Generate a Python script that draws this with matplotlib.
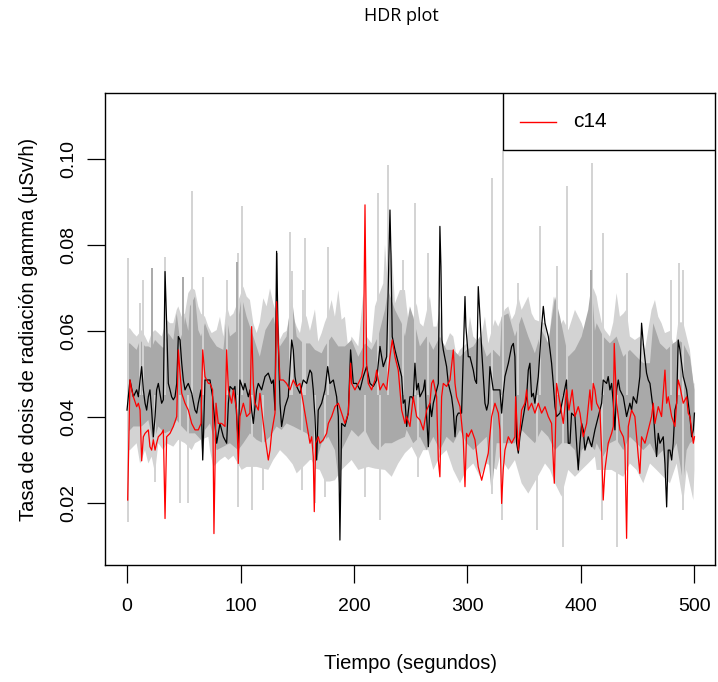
"""HDR plot: gamma dose rate, HDR bands with median and c14 series"""
import matplotlib
matplotlib.use('Agg')
import matplotlib.pyplot as plt
import matplotlib.patches as patches
import numpy as np

plt.rcParams['font.family'] = ['Liberation Sans', 'DejaVu Sans']

# ---- data ----
# median (black)
black_t = [0, 2.6, 5.6, 8.5, 10, 11.5, 12.9, 14.4, 15.9, 17.3, 18.8, 20.2, 21.7, 23.2, 24.7, 26.1, 27.6,
           29, 30.5, 32, 33.5, 34.9, 36.4, 37.9, 39.3, 40.8, 42.3, 43.8, 45.2, 46.7, 48.2, 49.6, 51.1,
           52.5, 54, 57, 59.9, 61.4, 62.8, 65.2, 66.7, 68.7, 71.7, 73.1, 75.4, 77.5, 79, 81.9, 84.9,
           87.8, 89.3, 90.7, 93.7, 95.1, 98, 99.5, 102.5, 103.9, 106.9, 108.3, 109.8, 111.3, 114.2,
           115.7, 118.6, 121.6, 124.5, 127.4, 128.9, 130.4, 131.8, 133.3, 134.8, 136.2, 139.2, 142.1,
           145.1, 146.5, 148, 149.5, 152.4, 155.3, 158.3, 161.2, 162.7, 164.1, 165.6, 167.1, 168.5,
           171.5, 174.4, 176.8, 178.8, 181.8, 184.7, 186.2, 187.6, 189.1, 192, 195, 197, 199.4, 202.3,
           205.3, 208.2, 211.1, 214.1, 217, 220, 222.9, 225.8, 228.8, 231.7, 232.6, 233.7, 236.1, 239,
           242, 243.4, 244.9, 246.4, 249.3, 250.8, 252.2, 253.7, 255.2, 256.7, 258.1, 261.1, 262.5,
           264, 265.5, 266.9, 268.4, 269.9, 272.8, 274.3, 275.7, 276.6, 277.5, 278.7, 281.6, 283.1,
           286, 287.5, 289, 290.4, 291.9, 294.8, 297.8, 298.6, 300.7, 302.2, 305.1, 306.6, 308, 309.5,
           311, 312.5, 315.4, 316.9, 318.3, 319.8, 322.7, 325.7, 328.6, 330.1, 331.5, 333, 336, 338.9,
           340.4, 341.8, 343.3, 344.8, 346.2, 349.2, 352.1, 353.6, 355, 356.5, 358, 359.4, 362.4,
           365.3, 366.8, 368.3, 371.2, 372.7, 374.1, 375.6, 377.1, 378.5, 381.5, 384.4, 387.3, 388.8,
           390.3, 391.7, 394.7, 397.6, 399.1, 400.6, 402, 403.5, 406.4, 409.4, 412.3, 415.2, 418.2,
           419.6, 422.6, 424, 425.5, 427, 428.5, 429.9, 431.4, 432.9, 434.3, 437.3, 440.2, 443.1,
           444.6, 446.1, 449, 450.5, 451.9, 453.4, 454.9, 457.8, 459.3, 460.8, 463.7, 465.2, 466.6,
           468.1, 469.6, 472.5, 474, 475.5, 476.9, 478.4, 479.9, 481.3, 482.8, 484.3, 485.7, 487.2,
           490.1, 493.1, 496, 497.5, 499, 500]
black_v = [0.0416, 0.0486, 0.0447, 0.0463, 0.0447, 0.0486, 0.0517, 0.0463, 0.0432, 0.0416, 0.0447,
           0.0463, 0.0416, 0.0354, 0.0401, 0.0463, 0.0478, 0.0455, 0.0432, 0.0440, 0.0738, 0.0618,
           0.0478, 0.0463, 0.0447, 0.0440, 0.0447, 0.0478, 0.0587, 0.0579, 0.0525, 0.0486, 0.0463,
           0.0471, 0.0478, 0.0455, 0.0416, 0.0409, 0.0432, 0.0463, 0.0300, 0.0486, 0.0486, 0.0486,
           0.0447, 0.0385, 0.0339, 0.0385, 0.0354, 0.0339, 0.0432, 0.0471, 0.0463, 0.0471, 0.0339,
           0.0486, 0.0463, 0.0478, 0.0447, 0.0463, 0.0416, 0.0385, 0.0463, 0.0478, 0.0463, 0.0494,
           0.0502, 0.0478, 0.0486, 0.0416, 0.0785, 0.0571, 0.0432, 0.0378, 0.0424, 0.0447, 0.0579,
           0.0556, 0.0494, 0.0471, 0.0455, 0.0486, 0.0478, 0.0509, 0.0502, 0.0463, 0.0401, 0.0300,
           0.0416, 0.0432, 0.0463, 0.0517, 0.0478, 0.0486, 0.0447, 0.0401, 0.0114, 0.0385, 0.0378,
           0.0409, 0.0556, 0.0478, 0.0478, 0.0463, 0.0494, 0.0517, 0.0478, 0.0471, 0.0486, 0.0564,
           0.0517, 0.0540, 0.0881, 0.0773, 0.0587, 0.0556, 0.0525, 0.0494, 0.0432, 0.0440, 0.0378,
           0.0447, 0.0447, 0.0440, 0.0525, 0.0463, 0.0478, 0.0447, 0.0463, 0.0486, 0.0401, 0.0331,
           0.0432, 0.0401, 0.0432, 0.0463, 0.0478, 0.0843, 0.0750, 0.0579, 0.0556, 0.0517, 0.0478,
           0.0447, 0.0416, 0.0354, 0.0401, 0.0409, 0.0409, 0.0680, 0.0610, 0.0540, 0.0540, 0.0509,
           0.0486, 0.0478, 0.0703, 0.0633, 0.0556, 0.0432, 0.0416, 0.0432, 0.0517, 0.0463, 0.0463,
           0.0463, 0.0409, 0.0455, 0.0494, 0.0525, 0.0564, 0.0571, 0.0540, 0.0339, 0.0316, 0.0354,
           0.0401, 0.0447, 0.0509, 0.0525, 0.0447, 0.0455, 0.0432, 0.0494, 0.0610, 0.0657, 0.0618,
           0.0587, 0.0556, 0.0525, 0.0478, 0.0424, 0.0401, 0.0409, 0.0447, 0.0486, 0.0339, 0.0339,
           0.0409, 0.0401, 0.0277, 0.0339, 0.0385, 0.0370, 0.0323, 0.0354, 0.0331, 0.0370, 0.0401,
           0.0432, 0.0486, 0.0478, 0.0494, 0.0463, 0.0478, 0.0432, 0.0370, 0.0463, 0.0486, 0.0463,
           0.0447, 0.0401, 0.0432, 0.0416, 0.0447, 0.0432, 0.0463, 0.0494, 0.0618, 0.0571, 0.0502,
           0.0486, 0.0478, 0.0416, 0.0354, 0.0308, 0.0362, 0.0339, 0.0354, 0.0292, 0.0191, 0.0323,
           0.0323, 0.0300, 0.0339, 0.0416, 0.0432, 0.0579, 0.0556, 0.0494, 0.0463, 0.0401, 0.0354,
           0.0370, 0.0409]

# c14 (red)
red_t = [0.6, 2.6, 4.1, 5.6, 8.5, 10, 11.5, 12.9, 14.4, 15.9, 18.8, 20.2, 21.7, 23.2, 24.7, 26.1, 27.6,
         30.5, 32, 33.5, 34.9, 37.9, 40.8, 43.8, 45.2, 46.7, 48.2, 51.1, 54, 57, 59.9, 62.8, 65.2,
         66.7, 68.7, 71.7, 73.1, 75.4, 76.6, 78.4, 80.4, 83.4, 86.3, 87.8, 89.3, 92.2, 93.7, 96.6, 98,
         99.5, 102.5, 105.4, 108.3, 109.8, 111.3, 112.7, 115.7, 117.1, 120.1, 121.6, 124.5, 126,
         127.4, 130.4, 131.8, 133.3, 134.8, 137.7, 140.6, 143.6, 146.5, 148, 149.5, 152.4, 155.3,
         158.3, 161.2, 162.7, 164.1, 165, 166.2, 168.5, 170, 172.9, 175.9, 177.4, 180.3, 183.2,
         186.2, 189.1, 192, 195, 197, 197.9, 200.8, 203.8, 206.7, 208.2, 209.7, 211.1, 212.6, 215.5,
         218.5, 220, 222.9, 225.8, 228.8, 231.7, 233.7, 236.1, 239, 242, 244.9, 246.4, 249.3, 252.2,
         255.2, 258.1, 261.1, 264, 266.9, 268.4, 269.9, 272.8, 274.3, 275.7, 277.2, 278.7, 281.6,
         284.6, 287.5, 289, 290.4, 293.4, 296.3, 297.8, 299.2, 300.7, 303.6, 306.6, 309.5, 312.5,
         315.4, 318.3, 321.3, 324.2, 327.2, 328.6, 330.1, 331.5, 333, 336, 338.9, 341.8, 342.4,
         344.8, 347.7, 350.6, 352.1, 353.6, 356.5, 359.4, 362.4, 365.3, 368.3, 371.2, 374.1, 376.5,
         378.5, 381.5, 384.4, 387.3, 389.4, 392.3, 394.7, 397.6, 399.1, 402, 405, 407.9, 409.4,
         410.8, 412.3, 413.8, 416.7, 418.2, 419.6, 421.1, 424, 427, 428.5, 429.3, 431.4, 434.3,
         437.3, 438.7, 440.2, 441.7, 444.6, 447.5, 450.5, 451.9, 453.4, 456.4, 459.3, 460.8, 462.2,
         463.7, 465.2, 468.1, 471, 474, 475.5, 476.9, 479.9, 482.8, 485.7, 487.2, 490.1, 493.1,
         494.5, 496, 499, 500]
red_v = [0.0207, 0.0486, 0.0463, 0.0447, 0.0424, 0.0432, 0.0416, 0.0298, 0.0354, 0.0362, 0.0370,
         0.0331, 0.0323, 0.0347, 0.0323, 0.0339, 0.0354, 0.0362, 0.0370, 0.0164, 0.0354, 0.0362,
         0.0378, 0.0401, 0.0556, 0.0502, 0.0455, 0.0432, 0.0416, 0.0385, 0.0370, 0.0370, 0.0385,
         0.0556, 0.0494, 0.0478, 0.0478, 0.0463, 0.0129, 0.0432, 0.0385, 0.0385, 0.0378, 0.0556,
         0.0463, 0.0432, 0.0463, 0.0416, 0.0292, 0.0401, 0.0432, 0.0401, 0.0409, 0.0610, 0.0478,
         0.0432, 0.0416, 0.0455, 0.0385, 0.0354, 0.0300, 0.0323, 0.0362, 0.0409, 0.0668, 0.0571,
         0.0486, 0.0486, 0.0478, 0.0463, 0.0486, 0.0478, 0.0471, 0.0478, 0.0432, 0.0385, 0.0339,
         0.0354, 0.0308, 0.0180, 0.0339, 0.0354, 0.0339, 0.0347, 0.0362, 0.0385, 0.0401, 0.0424,
         0.0432, 0.0409, 0.0385, 0.0409, 0.0525, 0.0478, 0.0463, 0.0478, 0.0494, 0.0517, 0.0893,
         0.0525, 0.0478, 0.0463, 0.0486, 0.0509, 0.0463, 0.0478, 0.0463, 0.0540, 0.0579, 0.0540,
         0.0509, 0.0416, 0.0385, 0.0401, 0.0378, 0.0447, 0.0401, 0.0393, 0.0370, 0.0416, 0.0432,
         0.0478, 0.0486, 0.0447, 0.0300, 0.0261, 0.0447, 0.0478, 0.0471, 0.0486, 0.0556, 0.0478,
         0.0447, 0.0424, 0.0347, 0.0238, 0.0362, 0.0354, 0.0370, 0.0347, 0.0284, 0.0253, 0.0284,
         0.0316, 0.0401, 0.0432, 0.0409, 0.0370, 0.0199, 0.0277, 0.0323, 0.0354, 0.0339, 0.0354,
         0.0447, 0.0323, 0.0416, 0.0432, 0.0463, 0.0416, 0.0432, 0.0409, 0.0432, 0.0409, 0.0424,
         0.0401, 0.0385, 0.0246, 0.0478, 0.0432, 0.0385, 0.0463, 0.0416, 0.0463, 0.0401, 0.0424,
         0.0409, 0.0354, 0.0385, 0.0463, 0.0416, 0.0478, 0.0463, 0.0432, 0.0416, 0.0323, 0.0207,
         0.0277, 0.0339, 0.0362, 0.0378, 0.0571, 0.0432, 0.0370, 0.0354, 0.0331, 0.0118, 0.0378,
         0.0416, 0.0401, 0.0308, 0.0269, 0.0354, 0.0339, 0.0370, 0.0385, 0.0401, 0.0432, 0.0385,
         0.0424, 0.0401, 0.0509, 0.0432, 0.0447, 0.0401, 0.0378, 0.0486, 0.0471, 0.0432, 0.0447,
         0.0409, 0.0401, 0.0339, 0.0354]

# outer (light grey) region envelope
light_up_t = [0, 2.6, 5.6, 8.5, 12.9, 15.9, 18.8, 21.7, 24.7, 27.6, 30.5, 34.9, 37.9, 40.8, 43.8, 45.2,
              48.2, 51.1, 54, 57, 59.9, 62.8, 65.2, 68.7, 71.7, 74.6, 79, 81.9, 84.9, 87.8, 90.7,
              93.7, 96.6, 99.5, 102.5, 105.4, 108.3, 111.3, 114.2, 117, 120.1, 123, 126, 128.9, 131.8,
              134.8, 137.7, 140.6, 143.6, 146.5, 149.5, 152.4, 155.3, 158.3, 161.2, 165.6, 168.5,
              171.5, 174.4, 177.4, 180.3, 183.2, 186.2, 189.1, 192, 195, 197.9, 203.8, 208.2, 211.1,
              215.5, 218.5, 221.4, 225.8, 227.3, 229.5, 233.2, 236.1, 240.5, 244.9, 246.4, 249.3,
              255.2, 258.1, 261.1, 266.9, 269.9, 272.8, 275.7, 278.7, 284.6, 287.5, 290.4, 293.4,
              299.2, 302.2, 305.1, 311, 315.4, 318.3, 321.3, 324.2, 327.1, 333, 336, 339, 341.8, 344.8,
              347.7, 353.6, 356.5, 359.4, 365.3, 368.3, 371.2, 374.1, 376, 381.5, 384.4, 389, 394.7,
              400.6, 406.4, 410.8, 413.8, 415.2, 418.2, 421.1, 425.5, 428.5, 431.4, 434.3, 437.3,
              440.2, 443.1, 447.5, 451.9, 456.4, 462.2, 465.2, 468.1, 471, 474, 478.4, 482.8, 485.7,
              490.1, 493.1, 496, 499, 500]
light_up_v = [0.0606, 0.0606, 0.0595, 0.0587, 0.0602, 0.0587, 0.0571, 0.0595, 0.0602, 0.0595, 0.0587,
              0.0626, 0.0618, 0.0618, 0.0649, 0.0657, 0.0633, 0.0641, 0.0688, 0.0700, 0.0695, 0.0657,
              0.0640, 0.0633, 0.0610, 0.0595, 0.0602, 0.0633, 0.0587, 0.0660, 0.0633, 0.0640, 0.0660,
              0.0680, 0.0703, 0.0680, 0.0672, 0.0618, 0.0595, 0.0620, 0.0676, 0.0657, 0.0699, 0.0664,
              0.0640, 0.0580, 0.0595, 0.0600, 0.0640, 0.0633, 0.0610, 0.0595, 0.0640, 0.0633, 0.0600,
              0.0650, 0.0575, 0.0595, 0.0620, 0.0640, 0.0672, 0.0633, 0.0695, 0.0626, 0.0633, 0.0556,
              0.0587, 0.0564, 0.0688, 0.0587, 0.0571, 0.0657, 0.0680, 0.0710, 0.0800, 0.0720, 0.0790,
              0.0664, 0.0695, 0.0695, 0.0657, 0.0595, 0.0664, 0.0618, 0.0610, 0.0680, 0.0610, 0.0610,
              0.0649, 0.0556, 0.0595, 0.0587, 0.0540, 0.0556, 0.0571, 0.0633, 0.0587, 0.0571, 0.0633,
              0.0571, 0.0600, 0.0626, 0.0610, 0.0650, 0.0657, 0.0626, 0.0640, 0.0680, 0.0649, 0.0680,
              0.0641, 0.0626, 0.0620, 0.0618, 0.0556, 0.0640, 0.0680, 0.0610, 0.0626, 0.0602, 0.0649,
              0.0618, 0.0571, 0.0700, 0.0680, 0.0657, 0.0620, 0.0602, 0.0587, 0.0620, 0.0688, 0.0633,
              0.0640, 0.0650, 0.0587, 0.0579, 0.0587, 0.0556, 0.0649, 0.0672, 0.0633, 0.0618, 0.0595,
              0.0600, 0.0556, 0.0620, 0.0620, 0.0587, 0.0556, 0.0478, 0.0478]
light_lo_t = [0, 2.6, 8.5, 11.5, 12.9, 15.9, 18.8, 21.7, 24.7, 27.6, 32, 34.9, 40.8, 45.2, 51.1, 57,
              59.9, 65.2, 71.7, 73.1, 76, 81.9, 86.3, 89.3, 93.7, 101, 105.4, 114.2, 124.5, 128.9,
              134.8, 140.6, 146, 149.5, 158.3, 161.2, 162.7, 166.2, 169.9, 174.4, 178.8, 183.2, 189.1,
              197.9, 203.8, 212.6, 218.5, 227.3, 233.2, 239, 244.9, 250.8, 256.7, 261, 265.5, 269.9,
              275.7, 281.6, 287.5, 293.4, 299.2, 305.1, 311, 316.9, 325.7, 328.6, 336, 341.8, 347.7,
              353.6, 365.3, 368.3, 372.7, 377.1, 382.9, 388.8, 394.7, 400.6, 406.4, 412.3, 413.8,
              421.1, 427, 437.3, 443.1, 449, 454.9, 460.8, 466.6, 472.5, 478.4, 484.3, 490.1, 493.1,
              499, 500]
light_lo_v = [0.0323, 0.0323, 0.0339, 0.0292, 0.0300, 0.0323, 0.0292, 0.0308, 0.0269, 0.0339, 0.0323,
              0.0339, 0.0331, 0.0347, 0.0339, 0.0323, 0.0339, 0.0347, 0.0354, 0.0323, 0.0284, 0.0300,
              0.0308, 0.0300, 0.0310, 0.0277, 0.0284, 0.0284, 0.0277, 0.0300, 0.0323, 0.0308, 0.0290,
              0.0269, 0.0292, 0.0300, 0.0300, 0.0280, 0.0277, 0.0250, 0.0250, 0.0253, 0.0277, 0.0300,
              0.0277, 0.0284, 0.0280, 0.0277, 0.0261, 0.0292, 0.0316, 0.0331, 0.0300, 0.0323, 0.0323,
              0.0277, 0.0308, 0.0323, 0.0277, 0.0246, 0.0277, 0.0292, 0.0261, 0.0292, 0.0277, 0.0308,
              0.0277, 0.0300, 0.0246, 0.0222, 0.0277, 0.0292, 0.0277, 0.0246, 0.0215, 0.0277, 0.0261,
              0.0277, 0.0292, 0.0308, 0.0277, 0.0277, 0.0277, 0.0261, 0.0292, 0.0277, 0.0246, 0.0292,
              0.0277, 0.0261, 0.0246, 0.0292, 0.0200, 0.0277, 0.0207, 0.0277]
# single-second spikes of the outer region
light_spk_t = [0.6, 11.5, 14.4, 33.5, 49.6, 57, 66.7, 87.8, 98, 101, 131.8, 143.6, 145, 155.3, 156.8,
               176.8, 221.4, 230, 243.4, 253.7, 265.5, 321.3, 331.5, 344.8, 363.8, 378.5, 387.3,
               409.4, 419.6, 440.2, 479.4, 486.6, 490.1,
               0.6, 24.7, 46.7, 54, 98, 109.8, 120.1, 154, 165.6, 174.4, 209.7, 222.9, 256.7, 321.3,
               330.1, 361, 384.4, 418.2, 431.4, 490.1]
light_spk_v = [0.0769, 0.0664, 0.0719, 0.0773, 0.0719, 0.0925, 0.0726, 0.0719, 0.0781, 0.0890,
               0.0781, 0.0830, 0.0740, 0.0695, 0.0815, 0.0796, 0.0920, 0.0985, 0.0765, 0.0897,
               0.0781, 0.0955, 0.1020, 0.0711, 0.0843, 0.0750, 0.0936, 0.0990, 0.0827, 0.0734,
               0.0719, 0.0757, 0.0742,
               0.0157, 0.0250, 0.0199, 0.0199, 0.0191, 0.0184, 0.0230, 0.0230, 0.0199, 0.0215,
               0.0215, 0.0160, 0.0261, 0.0222, 0.0160, 0.0137, 0.0098, 0.0160, 0.0098, 0.0184]

# inner (dark grey) region envelope
dark_up_t = [0, 2.6, 8.5, 11.5, 15.9, 18.8, 21.7, 24.7, 27.6, 32, 36.4, 40.8, 43.8, 46.7, 49.6, 51.1,
             54, 55.5, 59.9, 62.8, 65.2, 68.7, 73.1, 79, 84.9, 87.8, 90.7, 96.6, 101, 105.4, 111.3,
             117, 122, 128.9, 134.8, 140.6, 145.1, 149.5, 155.3, 161.2, 165.6, 171.5, 174.4, 180.3,
             186.2, 192, 197.9, 203.8, 209.7, 215.5, 221.4, 227.3, 230, 236.1, 242, 244.9, 249.3,
             252.2, 258.1, 264, 269.9, 275.7, 281.6, 287.5, 293.4, 299.2, 305.1, 311, 316.9, 322.7,
             328.6, 330.1, 336, 341.8, 347.7, 353.6, 359.4, 365.3, 371.2, 377.1, 381.5, 388.8, 394.7,
             400.6, 406.4, 409.4, 412.3, 413.8, 419.6, 425.5, 431.4, 437.3, 443.1, 449, 454.9, 460.8,
             463.7, 469.6, 475.5, 481.3, 485.7, 490.1, 496, 500]
dark_up_v = [0.0571, 0.0571, 0.0556, 0.0579, 0.0564, 0.0564, 0.0560, 0.0579, 0.0571, 0.0560, 0.0595,
             0.0579, 0.0641, 0.0579, 0.0600, 0.0633, 0.0600, 0.0657, 0.0680, 0.0602, 0.0587, 0.0618,
             0.0587, 0.0564, 0.0556, 0.0633, 0.0587, 0.0600, 0.0680, 0.0633, 0.0587, 0.0540, 0.0602,
             0.0633, 0.0564, 0.0587, 0.0680, 0.0587, 0.0571, 0.0571, 0.0556, 0.0548, 0.0564, 0.0587,
             0.0564, 0.0564, 0.0579, 0.0540, 0.0571, 0.0556, 0.0587, 0.0649, 0.0695, 0.0649, 0.0618,
             0.0587, 0.0657, 0.0633, 0.0564, 0.0587, 0.0556, 0.0587, 0.0556, 0.0556, 0.0540, 0.0556,
             0.0564, 0.0587, 0.0540, 0.0556, 0.0540, 0.0633, 0.0641, 0.0587, 0.0633, 0.0587, 0.0548,
             0.0602, 0.0571, 0.0680, 0.0633, 0.0540, 0.0556, 0.0587, 0.0649, 0.0711, 0.0600, 0.0618,
             0.0587, 0.0571, 0.0587, 0.0540, 0.0556, 0.0540, 0.0525, 0.0525, 0.0618, 0.0571, 0.0556,
             0.0571, 0.0579, 0.0571, 0.0540, 0.0463]
dark_lo_t = [0, 5.6, 12.9, 18.8, 23.2, 27.6, 33.5, 39.3, 43.8, 48.2, 54, 59.9, 65.2, 66.7, 68.7, 73.1,
             79, 84.9, 90.7, 98, 102.5, 108.3, 114.2, 120.1, 126, 131.8, 136.2, 140.6, 146.5, 152.4,
             158.3, 161.2, 162.7, 167.1, 171.5, 177.4, 183.2, 187.6, 189.1, 197.9, 203.8, 209.7,
             215.5, 221.4, 227.3, 233.2, 239, 244.9, 246.4, 252.2, 258.1, 264, 269.9, 275.7, 281.6,
             287.5, 293.4, 299.2, 305.1, 311, 316.9, 321.3, 325.7, 330.1, 336, 341.8, 347.7, 353.6,
             359.4, 365.3, 371.2, 377.1, 382.9, 388.8, 394.7, 397.6, 400.6, 406.4, 412.3, 413.8,
             419.6, 425.5, 431.4, 437.3, 443.1, 449, 454.9, 460.8, 466.6, 472.5, 475.5, 478.4, 484.3,
             490.1, 493.1, 496, 500]
dark_lo_v = [0.0362, 0.0378, 0.0378, 0.0393, 0.0339, 0.0378, 0.0362, 0.0370, 0.0393, 0.0378, 0.0362,
             0.0362, 0.0347, 0.0300, 0.0370, 0.0385, 0.0323, 0.0331, 0.0339, 0.0323, 0.0339, 0.0362,
             0.0347, 0.0339, 0.0354, 0.0378, 0.0370, 0.0385, 0.0378, 0.0370, 0.0362, 0.0354, 0.0339,
             0.0300, 0.0339, 0.0354, 0.0323, 0.0230, 0.0323, 0.0370, 0.0354, 0.0370, 0.0339, 0.0323,
             0.0339, 0.0339, 0.0347, 0.0354, 0.0370, 0.0339, 0.0354, 0.0323, 0.0354, 0.0323, 0.0354,
             0.0339, 0.0370, 0.0339, 0.0323, 0.0339, 0.0354, 0.0222, 0.0339, 0.0339, 0.0339, 0.0339,
             0.0370, 0.0354, 0.0339, 0.0370, 0.0354, 0.0323, 0.0339, 0.0339, 0.0323, 0.0277, 0.0323,
             0.0339, 0.0323, 0.0339, 0.0308, 0.0339, 0.0347, 0.0323, 0.0354, 0.0339, 0.0323, 0.0339,
             0.0308, 0.0323, 0.0260, 0.0308, 0.0339, 0.0246, 0.0323, 0.0339, 0.0347]
dark_spk_t = [21.7, 49.6, 96.6, 131.8, 408.5]
dark_spk_v = [0.0746, 0.0726, 0.0760, 0.0781, 0.0742]

x_ticks = [0, 100, 200, 300, 400, 500]
y_ticks = [0.02, 0.04, 0.06, 0.08, 0.10]
light_grey = '#d3d3d3'
dark_grey = '#a9a9a9'

fig = plt.figure(figsize=(7.18, 6.82), dpi=100)
ax = fig.add_axes([105 / 718, 117 / 682, 610 / 718, 472 / 682])

# outer region
ax.fill(np.r_[light_up_t, light_lo_t[::-1]], np.r_[light_up_v, light_lo_v[::-1]],
        color=light_grey, lw=0)
ax.vlines(light_spk_t, 0.045, light_spk_v, color=light_grey, lw=1.4)

# inner region
ax.fill(np.r_[dark_up_t, dark_lo_t[::-1]], np.r_[dark_up_v, dark_lo_v[::-1]],
        color=dark_grey, lw=0)
ax.vlines(dark_spk_t, 0.045, dark_spk_v, color=dark_grey, lw=1.4)

ax.plot(black_t, black_v, color='black', lw=0.9)
ax.plot(red_t, red_v, color='red', lw=0.9)

ax.set_xlim(-19.4, 518.1)
ax.set_ylim(0.0056, 0.1153)
ax.set_xticks(x_ticks)
ax.set_xticklabels([str(v) for v in x_ticks], fontsize=14)
ax.set_yticks(y_ticks)
ax.set_yticklabels(['%.2f' % v for v in y_ticks], fontsize=14, rotation=90, va='center')
ax.tick_params(length=13, width=0.9)
ax.tick_params(axis='x', pad=11)
ax.tick_params(axis='y', pad=7)
for s in ax.spines.values():
    s.set_linewidth(1.0)

ax.set_xlabel('Tiempo (segundos)', fontsize=14.5, labelpad=28)
ax.set_ylabel('Tasa de dosis de radiación gamma (μSv/h)', fontsize=14.5, labelpad=16)

# legend box in the top right corner, sharing the frame's right edge
x0 = (503 - 105) / 610
y0 = (565 - 150) / 472
ax.add_patch(patches.Rectangle((x0, y0), 1 - x0, 1 - y0, transform=ax.transAxes,
                               facecolor='white', edgecolor='black', lw=1.0, zorder=5))
ax.plot([(520 - 105) / 610, (556 - 105) / 610], [0.9386, 0.9386], color='red', lw=1,
        transform=ax.transAxes, zorder=6)
ax.text((573 - 105) / 610, 0.9386, 'c14', transform=ax.transAxes, fontsize=15,
        va='center', ha='left', zorder=6)

fig.text(0.559, 0.9765, 'HDR plot', ha='center', va='center', fontsize=13,
         family=['Open Sans', 'DejaVu Sans'])

plt.savefig('out.png', dpi=100)
plt.close()
